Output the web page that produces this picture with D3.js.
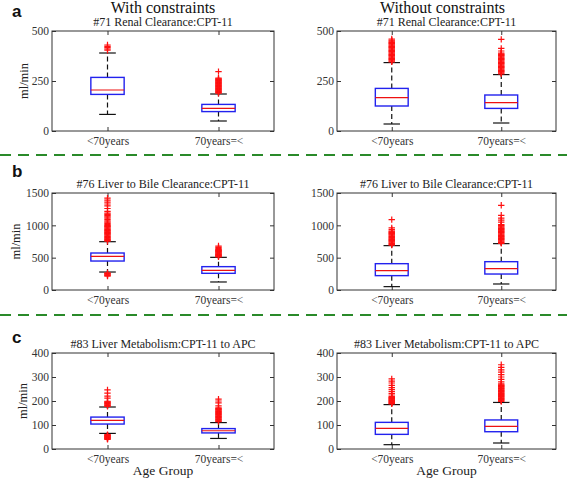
<!DOCTYPE html>
<html><head><meta charset="utf-8">
<script src="https://cdn.jsdelivr.net/npm/d3@7"></script>
<style>body{margin:0;background:#fff}svg{display:block}</style>
</head><body><svg id="chart" width="567" height="480"></svg>
<script>
// ---------------- data ----------------
const categories = ["<70years", "70years=<"];
const columnTitles = ["With constraints", "Without constraints"];
const panelLetters = ["a", "b", "c"];
const panelTitles = ["#71 Renal Clearance:CPT-11", "#76 Liver to Bile Clearance:CPT-11", "#83 Liver Metabolism:CPT-11 to APC"];
const yLabel = "ml/min";
const xLabel = "Age Group";
const yTicksA = [0, 250, 500];
const yTicksB = [0, 500, 1000, 1500];
const yTicksC = [0, 100, 200, 300, 400];
const yDomainA = [0, 500];
const yDomainB = [0, 1500];
const yDomainC = [0, 400];

// box stats: [lower whisker, Q1, median, Q3, upper whisker] per category
const aWithStats = [[83, 183, 205, 268, 390], [50, 97, 113, 133, 185]];
const aWithoutStats = [[35, 125, 167, 213, 342], [40, 113, 142, 180, 282]];
const bWithStats = [[278, 448, 521, 572, 747], [124, 258, 304, 361, 505]];
const bWithoutStats = [[52, 222, 299, 407, 686], [93, 247, 330, 438, 717]];
const cWithStats = [[65, 104, 119, 133, 175], [44, 67, 76, 85, 110]];
const cWithoutStats = [[18, 61, 86, 111, 185], [25, 72, 94, 121, 194]];

// outliers per category
const aWithOutliers = [
  [404, 410, 417, 423, 430],
  [189, 192, 195, 198, 201, 204, 207, 210, 213, 216, 219, 222, 225, 228, 231, 234, 237, 240, 243, 246, 249, 252, 255, 258, 261, 264, 297]
];
const aWithoutOutliers = [
  [346, 350, 354, 358, 362, 366, 370, 374, 378, 382, 386, 390, 394, 398, 402, 406, 410, 414, 418, 422, 426, 430, 434, 438, 442, 446, 450, 454, 460],
  [286, 290, 294, 298, 302, 306, 310, 314, 318, 322, 326, 330, 334, 338, 342, 346, 350, 354, 358, 362, 366, 370, 374, 378, 382, 386, 390, 400, 413, 458]
];
const bWithOutliers = [
  [755, 767, 779, 791, 803, 815, 827, 839, 851, 863, 875, 887, 899, 911, 923, 935, 947, 959, 971, 983, 995, 1010, 1030, 1050, 1070, 1090, 1110, 1130, 1150, 1170, 1190, 1215, 1260, 1300, 1330, 1360, 1390, 1420,
   265, 255, 245, 235, 225, 215],
  [512, 520, 528, 536, 544, 552, 560, 568, 576, 584, 592, 600, 608, 616, 624, 640, 660, 680]
];
const bWithoutOutliers = [
  [695, 707, 719, 731, 743, 755, 767, 779, 791, 803, 815, 827, 839, 851, 863, 875, 887, 899, 910, 935, 960, 1088],
  [722, 734, 746, 758, 770, 782, 794, 806, 818, 830, 842, 854, 866, 878, 890, 902, 914, 926, 938, 950, 962, 974, 986, 998, 1010, 1050, 1080, 1113, 1155, 1310]
];
const cWithOutliers = [
  [178, 181, 184, 187, 190, 193, 196, 199, 212, 220, 233, 246, 40, 42, 44, 46, 48, 50, 52, 54, 56, 58, 60],
  [114, 117, 120, 123, 126, 129, 132, 135, 138, 141, 144, 147, 150, 153, 156, 159, 162, 165, 168, 171, 180, 192, 200, 208]
];
const cWithoutOutliers = [
  [188, 190, 193, 195, 198, 200, 203, 205, 208, 210, 213, 215, 218, 225, 232, 240, 248, 256, 265, 275, 283, 292],
  [198, 201, 204, 207, 210, 213, 216, 219, 222, 225, 228, 231, 234, 237, 240, 243, 246, 249, 252, 255, 258, 261, 264, 267, 271, 280, 290, 300, 310, 320, 330, 340, 351]
];

// ---------------- layout ----------------
const svg = d3.select("#chart");
const serif = "'Liberation Serif','Times New Roman',serif";
const cols = [{x0: 52, x1: 274}, {x0: 337, x1: 556}];
const rows = [
  {y0: 31, y1: 131, ticks: yTicksA, domain: yDomainA, stats: [aWithStats, aWithoutStats], outliers: [aWithOutliers, aWithoutOutliers]},
  {y0: 193, y1: 290, ticks: yTicksB, domain: yDomainB, stats: [bWithStats, bWithoutStats], outliers: [bWithOutliers, bWithoutOutliers]},
  {y0: 353, y1: 449, ticks: yTicksC, domain: yDomainC, stats: [cWithStats, cWithoutStats], outliers: [cWithOutliers, cWithoutOutliers]}
];
const ylabelX = [28, 20, 27];
const letterY = [17, 177, 343];

// column headers
columnTitles.forEach((t, i) => {
  svg.append("text").attr("x", (cols[i].x0 + cols[i].x1) / 2 + (i === 0 ? 0 : -4)).attr("y", 12.5)
    .attr("text-anchor", "middle").attr("font-family", serif).attr("font-size", 16).attr("fill", "#111").text(t);
});

// dashed separators
[155, 315].forEach(y => {
  svg.append("line").attr("x1", 0).attr("x2", 567).attr("y1", y).attr("y2", y)
    .attr("stroke", "#2a8a2a").attr("stroke-width", 2).attr("stroke-dasharray", "11,7");
});

rows.forEach((row, r) => {
  svg.append("text").attr("x", 12).attr("y", letterY[r]).attr("font-family", "'Liberation Sans',Arial,sans-serif")
    .attr("font-weight", "bold").attr("font-size", 17).attr("fill", "#111").text(panelLetters[r]);

  cols.forEach((col, c) => {
    const x = d3.scalePoint().domain(categories).range([col.x0, col.x1]).padding(0.5);
    const y = d3.scaleLinear().domain(row.domain).range([row.y1, row.y0]);
    const g = svg.append("g");
    const boxW = 0.3 * (x(categories[1]) - x(categories[0]));

    // title
    g.append("text").attr("x", (col.x0 + col.x1) / 2).attr("y", row.y0 - 5)
      .attr("text-anchor", "middle").attr("font-family", serif).attr("font-size", 12).attr("fill", "#222")
      .text(panelTitles[r]);

    // axes
    const ax = (gen, tx, ty, labels) => {
      const a = g.append("g").attr("transform", `translate(${tx},${ty})`).call(gen);
      a.select(".domain").remove();
      a.selectAll(".tick line").attr("stroke", "#333");
      a.selectAll(".tick text").attr("font-family", serif).attr("font-size", 11.5).attr("fill", "#333");
      if (!labels) a.selectAll(".tick text").remove();
    };
    ax(d3.axisLeft(y).tickValues(row.ticks).tickSize(-4).tickPadding(3).tickFormat(d3.format("d")), col.x0, 0, true);
    ax(d3.axisRight(y).tickValues(row.ticks).tickSize(-4), col.x1, 0, false);
    ax(d3.axisBottom(x).tickSize(-4).tickPadding(6), 0, row.y1, true);
    ax(d3.axisTop(x).tickSize(-4), 0, row.y0, false);

    g.append("rect").attr("x", col.x0).attr("y", row.y0).attr("width", col.x1 - col.x0).attr("height", row.y1 - row.y0)
      .attr("fill", "none").attr("stroke", "#333").attr("stroke-width", 1);

    if (c === 0) {
      g.append("text").attr("transform", `translate(${ylabelX[r]},${(row.y0 + row.y1) / 2}) rotate(-90)`)
        .attr("text-anchor", "middle").attr("font-family", serif).attr("font-size", 12.5).attr("fill", "#222").text(yLabel);
    }
    if (r === rows.length - 1) {
      g.append("text").attr("x", (col.x0 + col.x1) / 2).attr("y", 475)
        .attr("text-anchor", "middle").attr("font-family", serif).attr("font-size", 13.5).attr("fill", "#222").text(xLabel);
    }

    const stats = row.stats[c];
    const outs = row.outliers[c];
    categories.forEach((cat, k) => {
      const [lo, q1, med, q3, hi] = stats[k];
      const cx = x(cat);
      // whiskers
      g.append("line").attr("x1", cx).attr("x2", cx).attr("y1", y(q3)).attr("y2", y(hi))
        .attr("stroke", "#111").attr("stroke-width", 1.2).attr("stroke-dasharray", "5,3");
      g.append("line").attr("x1", cx).attr("x2", cx).attr("y1", y(q1)).attr("y2", y(lo))
        .attr("stroke", "#111").attr("stroke-width", 1.2).attr("stroke-dasharray", "5,3");
      [lo, hi].forEach(v => g.append("line").attr("x1", cx - boxW / 4).attr("x2", cx + boxW / 4)
        .attr("y1", y(v)).attr("y2", y(v)).attr("stroke", "#111").attr("stroke-width", 1.2));
      // box
      g.append("rect").attr("x", cx - boxW / 2).attr("y", y(q3)).attr("width", boxW).attr("height", y(q1) - y(q3))
        .attr("fill", "none").attr("stroke", "#2222ee").attr("stroke-width", 1.4);
      g.append("line").attr("x1", cx - boxW / 2).attr("x2", cx + boxW / 2).attr("y1", y(med)).attr("y2", y(med))
        .attr("stroke", "#ee1111").attr("stroke-width", 1.2);
      // outliers
      const s = 3.2;
      g.append("g").selectAll("path").data(outs[k]).join("path")
        .attr("d", v => `M${cx - s},${y(v)}H${cx + s}M${cx},${y(v) - s}V${y(v) + s}`)
        .attr("stroke", "#ff1010").attr("stroke-width", 1.2).attr("fill", "none");
    });
  });
});
</script></body></html>
